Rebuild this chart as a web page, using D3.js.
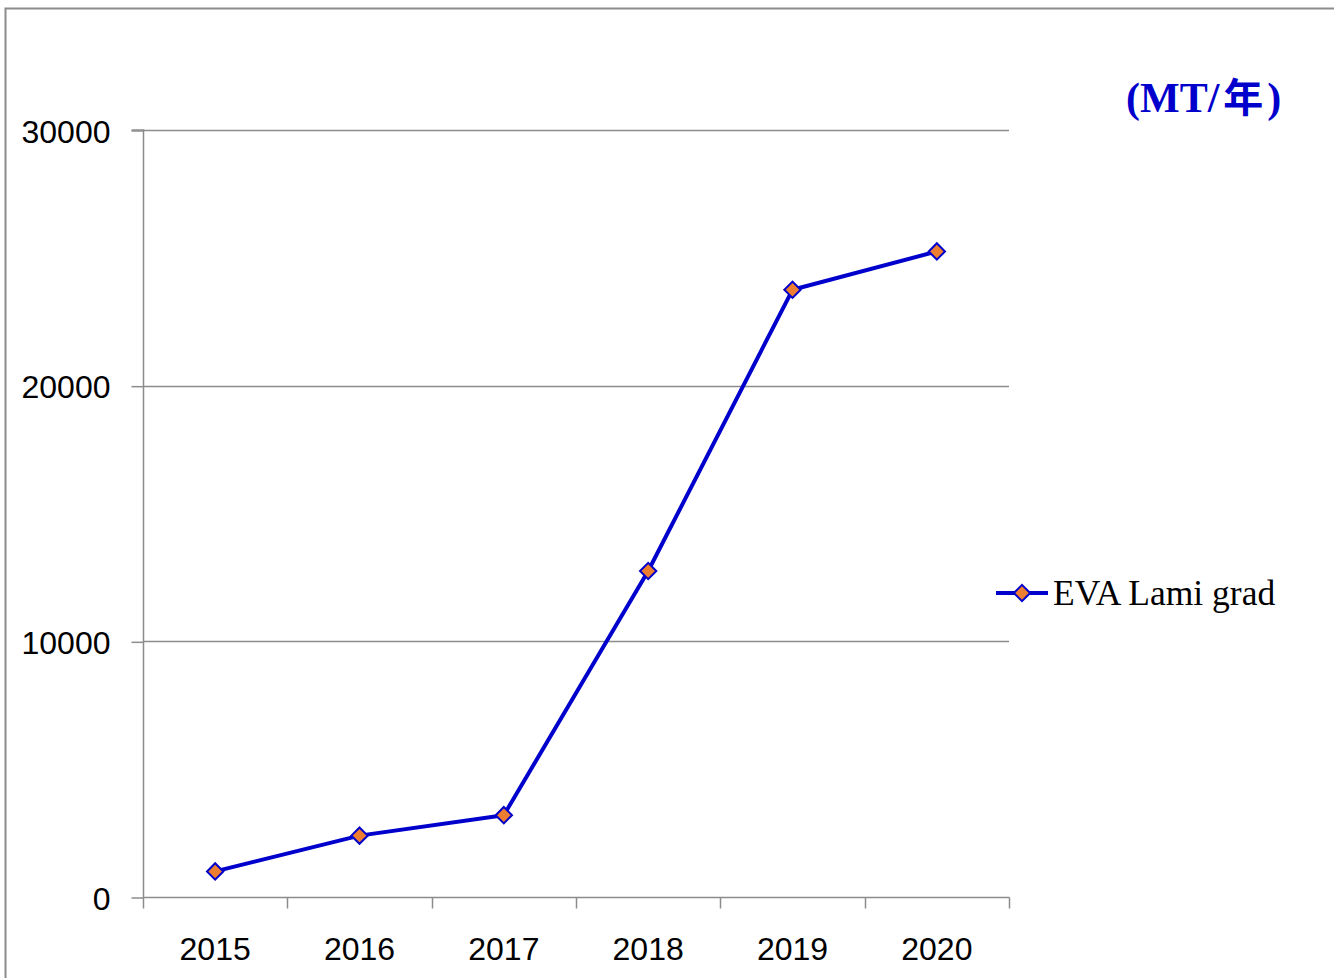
<!DOCTYPE html>
<html>
<head>
<meta charset="utf-8">
<script src="https://cdn.jsdelivr.net/npm/d3@7"></script>
<style>
  html, body { margin: 0; padding: 0; background: #fff; }
  svg { display: block; }
</style>
</head>
<body>
<svg id="chart" width="1334" height="978"></svg>
<script>
const categories = ["2015", "2016", "2017", "2018", "2019", "2020"];
const seriesName = "EVA Lami grad";
const values = [1000, 2400, 3200, 12750, 23750, 25250];
const yTicks = [0, 10000, 20000, 30000];
const unitParts = ["(MT/", "年", ")"];

const svg = d3.select("#chart");
const W = 1334, H = 978;
const plot = { left: 143, right: 1009, top: 130, bottom: 897 };

// outer chart border (top and left visible)
svg.append("path")
  .attr("d", `M5.5,${H} V8.5 H${W}`)
  .attr("fill", "none").attr("stroke", "#8c8c8c").attr("stroke-width", 2);

const x = d3.scaleBand().domain(categories).range([plot.left, plot.right]).paddingInner(0).paddingOuter(0);
const y = d3.scaleLinear().domain([0, 30000]).range([plot.bottom, plot.top]);

// gridlines
svg.append("g").selectAll("line").data(yTicks.filter(d => d > 0)).join("line")
  .attr("x1", plot.left).attr("x2", plot.right)
  .attr("y1", d => Math.round(y(d)) + 0.5).attr("y2", d => Math.round(y(d)) + 0.5)
  .attr("stroke", "#8c8c8c").attr("stroke-width", 1.5);

// y axis
const yAxis = d3.axisLeft(y).tickValues(yTicks).tickSize(12).tickPadding(21).tickFormat(d3.format("d"));
const gy = svg.append("g").attr("transform", `translate(${plot.left + 0.5},0.5)`).call(yAxis);
gy.select(".domain").attr("stroke", "#8c8c8c").attr("stroke-width", 1.5).attr("d", `M-12,${plot.top - 0.5}H0V${plot.bottom - 0.5}`);
gy.selectAll(".tick line").attr("stroke", "#8c8c8c").attr("stroke-width", 1.5);
gy.selectAll(".tick text")
  .attr("font-family", "'Liberation Sans', 'Open Sans', sans-serif")
  .attr("font-size", 32).attr("fill", "#000").attr("dy", "0.36em");

// x axis with ticks at category boundaries
const gx = svg.append("g").attr("transform", `translate(0,${plot.bottom + 0.5})`);
gx.append("line").attr("x1", plot.left).attr("x2", plot.right + 0.5)
  .attr("stroke", "#8c8c8c").attr("stroke-width", 1.5);
const bounds = categories.map(c => x(c)).concat([plot.right]);
gx.selectAll("line.tk").data(bounds).join("line").attr("class", "tk")
  .attr("x1", d => Math.round(d) + 0.5).attr("x2", d => Math.round(d) + 0.5)
  .attr("y1", 0).attr("y2", 11)
  .attr("stroke", "#8c8c8c").attr("stroke-width", 1.5);
gx.selectAll("text").data(categories).join("text")
  .attr("x", d => x(d) + x.bandwidth() / 2)
  .attr("y", 62)
  .attr("text-anchor", "middle")
  .attr("font-family", "'Liberation Sans', 'Open Sans', sans-serif")
  .attr("font-size", 32).attr("fill", "#000")
  .text(d => d);

// line
const lineColor = "#0000cc";
const cx = d => x(d) + x.bandwidth() / 2;
const line = d3.line().x((d, i) => cx(categories[i])).y(d => y(d));
svg.append("path").datum(values)
  .attr("d", line).attr("fill", "none")
  .attr("stroke", lineColor).attr("stroke-width", 4).attr("stroke-linejoin", "round");

const diamond = d3.symbol().type(d3.symbolDiamond2).size(170);
svg.append("g").selectAll("path").data(values).join("path")
  .attr("transform", (d, i) => `translate(${cx(categories[i])},${y(d)})`)
  .attr("d", diamond)
  .attr("fill", "#ed7d31").attr("stroke", lineColor).attr("stroke-width", 2);

// legend
const lg = svg.append("g").attr("transform", "translate(996,593)");
lg.append("line").attr("x1", 0).attr("x2", 52).attr("y1", 0).attr("y2", 0)
  .attr("stroke", lineColor).attr("stroke-width", 4);
lg.append("path").attr("transform", "translate(26,0)").attr("d", diamond)
  .attr("fill", "#ed7d31").attr("stroke", lineColor).attr("stroke-width", 2);
lg.append("text").attr("x", 57).attr("y", 12)
  .attr("font-family", "'Liberation Serif', 'DejaVu Serif', serif")
  .attr("font-size", 35.5).attr("fill", "#000")
  .text(seriesName);

// unit label
const ut = svg.append("text").attr("x", 1126).attr("y", 112)
  .attr("font-family", "'Liberation Serif', serif")
  .attr("font-weight", "bold").attr("font-size", 42).attr("fill", "#0000cc");
ut.append("tspan").text(unitParts[0]);
ut.append("tspan").attr("dx", 4).attr("font-family", "'Noto Sans CJK TC', 'Noto Sans CJK SC', sans-serif")
  .attr("font-weight", "bold").attr("font-size", 40).text(unitParts[1]);
ut.append("tspan").attr("dx", 4).text(unitParts[2]);
</script>
</body>
</html>
